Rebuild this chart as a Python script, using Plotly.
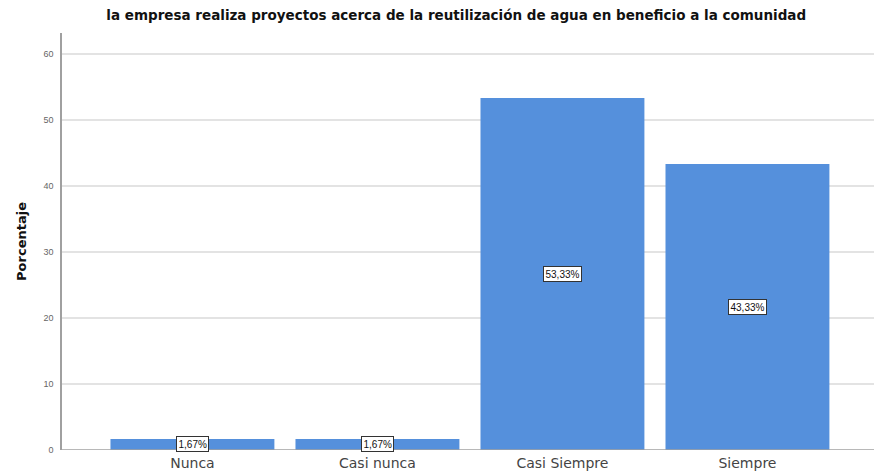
import plotly.graph_objects as go

categories = ["Nunca", "Casi nunca", "Casi Siempre", "Siempre"]
values = [1.67, 1.67, 53.33, 43.33]
y_ticks = [0, 10, 20, 30, 40, 50, 60]
title_text = "la empresa realiza proyectos acerca de la reutilización de agua en beneficio a la comunidad"

labels = [f"{v:.2f}%".replace(".", ",") for v in values]

fig = go.Figure()
fig.add_trace(go.Bar(
    x=categories, y=values,
    marker=dict(color="#5590DC", line=dict(width=0)),
    hoverinfo="skip",
))

for c, v, t in zip(categories, values, labels):
    fig.add_annotation(
        x=c, y=v / 2, text=t, showarrow=False,
        font=dict(family="Liberation Sans, Arial, sans-serif", size=10, color="#111"),
        bgcolor="white", bordercolor="#333", borderwidth=1, borderpad=1.5,
    )

fig.update_layout(
    width=874, height=475,
    margin=dict(l=62, r=0, t=33, b=25),
    paper_bgcolor="white", plot_bgcolor="white",
    bargap=0.114,
    showlegend=False,
    font=dict(family="Liberation Sans, Arial, sans-serif"),
    title=dict(
        text="<b>" + title_text + "</b>",
        x=0.522, xanchor="center", y=0.968, yanchor="middle",
        font=dict(family="DejaVu Sans, sans-serif", size=13.5, color="#111"),
    ),
    xaxis=dict(
        range=[-0.705, 3.684],
        showgrid=False, zeroline=False,
        showline=False,
        ticks="", ticklabelstandoff=3,
        tickfont=dict(family="DejaVu Sans, sans-serif", size=14, color="#444"),
    ),
    yaxis=dict(
        range=[0, 63.2],
        tickvals=y_ticks,
        showgrid=True, gridcolor="#e3e3e3", gridwidth=1.5,
        zeroline=False,
        showline=True, linecolor="#a0a0a0", linewidth=1.5,
        ticks="", ticklabelstandoff=5,
        tickfont=dict(size=9, color="#666"),
        title=dict(text="<b>Porcentaje</b>",
                   font=dict(family="DejaVu Sans, sans-serif", size=13, color="#111"),
                   standoff=14),
    ),
)

# baseline axis line
fig.add_shape(type="line", xref="paper", yref="y", x0=0, x1=1, y0=0, y1=0,
              line=dict(color="#a0a0a0", width=1.5), layer="above")

fig.write_html("out.html", config={"displayModeBar": False},
               post_script="document.body.style.margin='0';document.body.style.overflow='hidden';")
